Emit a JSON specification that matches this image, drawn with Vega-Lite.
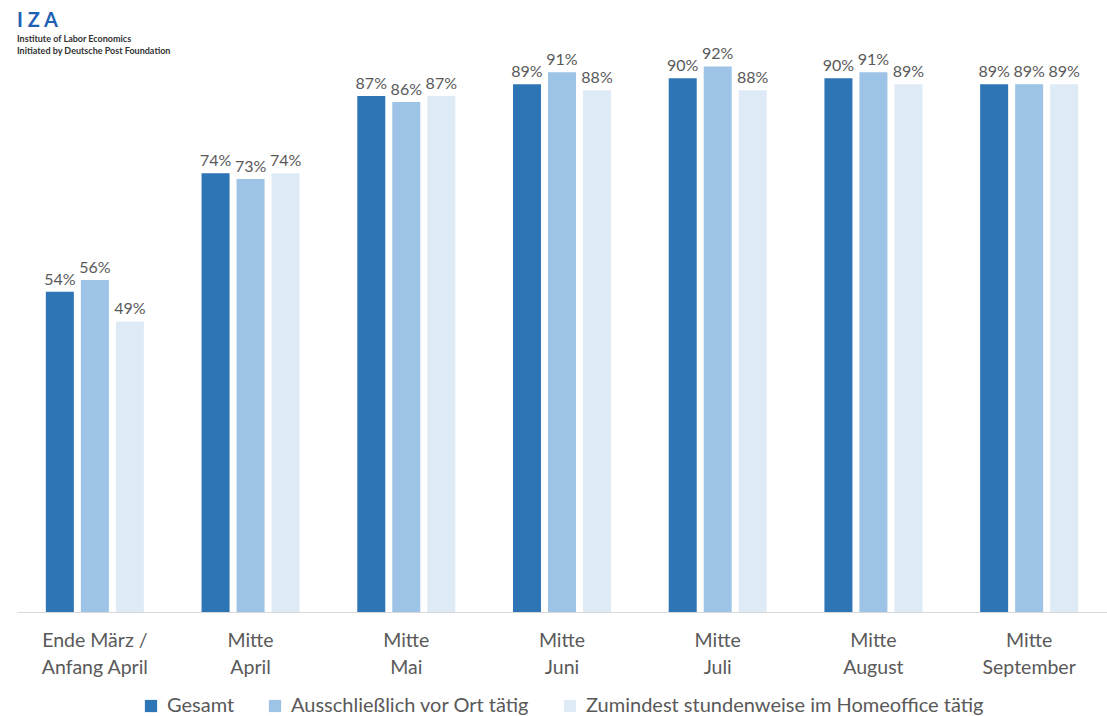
{
  "$schema": "https://vega.github.io/schema/vega-lite/v6.json",
  "width": 1090,
  "height": 593,
  "padding": {"left": 17, "right": 0, "top": 11, "bottom": 0},
  "background": "white",
  "config": {
    "view": {"stroke": null},
    "font": "Lato",
    "legend": {"layout": {"bottom": {"anchor": "middle"}}}
  },
  "title": {
    "text": "I  Z  A",
    "subtitle": ["Institute of Labor Economics", "Initiated by Deutsche Post Foundation"],
    "anchor": "start",
    "frame": "group",
    "orient": "top",
    "offset": -37,
    "font": "Lato",
    "fontSize": 20,
    "fontWeight": "bold",
    "color": "#1F62B4",
    "subtitleFont": "Lato",
    "subtitleFontSize": 9,
    "subtitleLineHeight": 12,
    "subtitleFontWeight": "bold",
    "subtitleColor": "#333333",
    "subtitlePadding": 4
  },
  "data": {
    "values": [
      {"zeitraum": "Ende März / Anfang April", "gruppe": "Gesamt", "anteil": 0.54},
      {"zeitraum": "Ende März / Anfang April", "gruppe": "Ausschließlich vor Ort tätig", "anteil": 0.56},
      {"zeitraum": "Ende März / Anfang April", "gruppe": "Zumindest stundenweise im Homeoffice tätig", "anteil": 0.49},
      {"zeitraum": "Mitte April", "gruppe": "Gesamt", "anteil": 0.74},
      {"zeitraum": "Mitte April", "gruppe": "Ausschließlich vor Ort tätig", "anteil": 0.73},
      {"zeitraum": "Mitte April", "gruppe": "Zumindest stundenweise im Homeoffice tätig", "anteil": 0.74},
      {"zeitraum": "Mitte Mai", "gruppe": "Gesamt", "anteil": 0.87},
      {"zeitraum": "Mitte Mai", "gruppe": "Ausschließlich vor Ort tätig", "anteil": 0.86},
      {"zeitraum": "Mitte Mai", "gruppe": "Zumindest stundenweise im Homeoffice tätig", "anteil": 0.87},
      {"zeitraum": "Mitte Juni", "gruppe": "Gesamt", "anteil": 0.89},
      {"zeitraum": "Mitte Juni", "gruppe": "Ausschließlich vor Ort tätig", "anteil": 0.91},
      {"zeitraum": "Mitte Juni", "gruppe": "Zumindest stundenweise im Homeoffice tätig", "anteil": 0.88},
      {"zeitraum": "Mitte Juli", "gruppe": "Gesamt", "anteil": 0.90},
      {"zeitraum": "Mitte Juli", "gruppe": "Ausschließlich vor Ort tätig", "anteil": 0.92},
      {"zeitraum": "Mitte Juli", "gruppe": "Zumindest stundenweise im Homeoffice tätig", "anteil": 0.88},
      {"zeitraum": "Mitte August", "gruppe": "Gesamt", "anteil": 0.90},
      {"zeitraum": "Mitte August", "gruppe": "Ausschließlich vor Ort tätig", "anteil": 0.91},
      {"zeitraum": "Mitte August", "gruppe": "Zumindest stundenweise im Homeoffice tätig", "anteil": 0.89},
      {"zeitraum": "Mitte September", "gruppe": "Gesamt", "anteil": 0.89},
      {"zeitraum": "Mitte September", "gruppe": "Ausschließlich vor Ort tätig", "anteil": 0.89},
      {"zeitraum": "Mitte September", "gruppe": "Zumindest stundenweise im Homeoffice tätig", "anteil": 0.89}
    ]
  },
  "encoding": {
    "x": {
      "field": "zeitraum",
      "type": "nominal",
      "sort": null,
      "scale": {"paddingInner": 0, "paddingOuter": 0},
      "axis": {
        "title": null,
        "labelAngle": 0,
        "ticks": false,
        "domainColor": "#D9D9D9",
        "domainWidth": 1,
        "labelFontSize": 19.5,
        "labelColor": "#595959",
        "labelPadding": 19,
        "labelLineHeight": 27,
        "labelExpr": "indexof(datum.value, ' / ') > 0 ? [slice(datum.value, 0, indexof(datum.value, ' / ') + 2), slice(datum.value, indexof(datum.value, ' / ') + 3)] : split(datum.value, ' ')"
      }
    },
    "xOffset": {
      "field": "gruppe",
      "type": "nominal",
      "sort": ["Gesamt", "Ausschließlich vor Ort tätig", "Zumindest stundenweise im Homeoffice tätig"],
      "scale": {"paddingInner": 0.2, "paddingOuter": 0.824}
    },
    "y": {
      "field": "anteil",
      "type": "quantitative",
      "scale": {"domain": [0, 1]},
      "axis": null
    }
  },
  "layer": [
    {
      "mark": {"type": "bar"},
      "encoding": {
        "color": {
          "field": "gruppe",
          "type": "nominal",
          "scale": {
            "domain": ["Gesamt", "Ausschließlich vor Ort tätig", "Zumindest stundenweise im Homeoffice tätig"],
            "range": ["#2E75B6", "#9DC3E6", "#DEEBF7"]
          },
          "legend": {
            "title": null,
            "orient": "bottom",
            "direction": "horizontal",
            "symbolType": "square",
            "symbolSize": 150,
            "symbolStrokeWidth": 0,
            "labelFontSize": 20,
            "labelLimit": 600,
            "labelColor": "#595959",
            "columnPadding": 30,
            "labelOffset": 6,
            "offset": 19,
            "padding": 0
          }
        }
      }
    },
    {
      "mark": {"type": "text", "baseline": "bottom", "dy": -4, "fontSize": 16, "color": "#595959"},
      "encoding": {
        "text": {"field": "anteil", "type": "quantitative", "format": ".0%"},
        "color": {"value": "#595959"}
      }
    }
  ]
}
